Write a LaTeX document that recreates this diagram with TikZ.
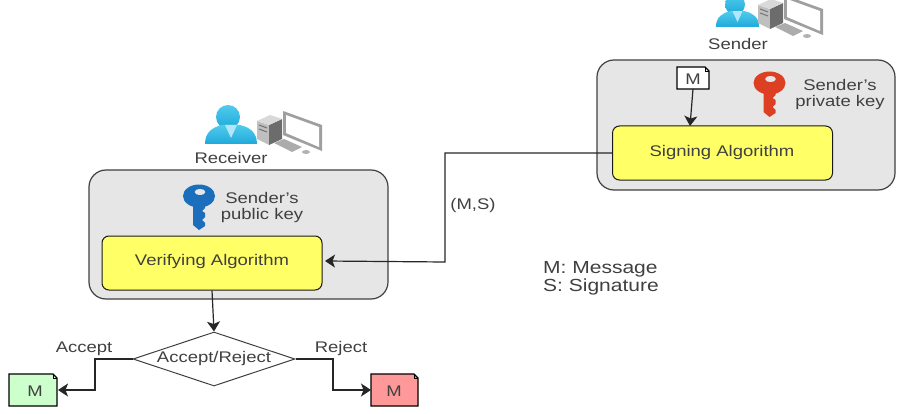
\documentclass[tikz,border=0pt]{standalone}
\usepackage{fontspec}
\setmainfont[FakeStretch=1.2]{Liberation Sans}
\usetikzlibrary{shapes.geometric,arrows.meta}

\definecolor{panelgray}{HTML}{E6E6E6}
\definecolor{algoyellow}{HTML}{FFFF66}
\definecolor{labelgray}{HTML}{404040}
\definecolor{keyred}{HTML}{DD3F22}
\definecolor{keyblue}{HTML}{1B6EBB}
\definecolor{persontop}{HTML}{50CBEC}
\definecolor{personlow}{HTML}{1FA9DA}

\tikzset{
  panel/.style={draw=black!75, fill=panelgray, line width=1.2pt, rounded corners=17pt},
  algo/.style={draw=black!90, fill=algoyellow, line width=1pt, rounded corners=7pt,
    minimum width=220pt, minimum height=54pt},
  txt/.style={text=labelgray, font=\fontsize{15.4}{18}\selectfont, align=center, inner sep=0pt},
  keytxt/.style={txt, font=\fontsize{15.4}{16}\selectfont},
  link/.style={draw=black!85, line width=1.2pt, -{Stealth[length=10pt,width=13pt,inset=2.5pt]}},
  pics/key/.style={code={
    % Bow with its hole, then shaft and teeth; origin on top of the bow
    \fill[#1, even odd rule] (0,11) ellipse (16 and 11.5) (1,7) ellipse (5.5 and 3.2);
    \fill[#1] (-6,18) -- (-6,40) -- (0,45) -- (6,41) -- (6,38) -- (3,35) -- (6,32)
      -- (6,28) -- (3,26) -- (6,23) -- (6,18) -- cycle;
  }},
  pics/person/.style={code={
    % Head and shoulders
    \shade[top color=persontop, bottom color=personlow]
      (-3,-27) circle (12);
    \shade[top color=persontop, bottom color=personlow]
      (-26,0) .. controls (-26,-12) and (-18,-17) .. (-9,-19) -- (9,-19)
      .. controls (18,-17) and (26,-12) .. (26,0) -- cycle;
    \fill[white!70!cyan] (-6,-19) -- (0,-6) -- (6,-19) -- cycle;
  }},
  pics/computer/.style={code={
    % Tower
    \fill[gray!50] (0,10) -- (12,14) -- (12,34) -- (0,28) -- cycle;
    \fill[gray!85!black] (12,14) -- (25,8) -- (25,28) -- (12,34) -- cycle;
    \fill[gray!30] (0,10) -- (13,4) -- (25,8) -- (12,14) -- cycle;
    \draw[gray!90!black, line width=1pt] (2,14) -- (10,17) (2,18) -- (10,21);
    % Monitor
    \fill[gray!75] (26,0) -- (65,14) -- (65,40) -- (26,24) -- cycle;
    \fill[white] (29,4) -- (62,16) -- (62,36) -- (29,22) -- cycle;
    % Keyboard and mouse
    \fill[gray!65] (17,32) -- (27,28) -- (45,36) -- (35,41) -- cycle;
    \fill[gray!60] (49,41) ellipse (4 and 2);
  }},
  pics/docshape/.style args={#1/#2/#3}{code={
    % Page with turned corner, top left at the origin
    \draw[fill=#1, line width=1.2pt] (0,0) -- (#2-4,0) -- (#2,4) -- (#2,#3) -- (0,#3) -- cycle;
    \draw[line width=0.5pt] (#2-4,0) -- (#2-4,4) -- (#2,4);
  }},
}

\begin{document}
\begin{tikzpicture}[x=1pt, y=-1pt]
  \useasboundingbox (0,0) rectangle (909,414);

  % Sender side
  \draw[panel] (597,60) rectangle (895,190);
  \node[algo] (signing) at (722.5,153) {};
  \node[txt] (signtext) at (722,153) {Signing Algorithm};
  \pic at (769.5,72) {key=keyred};
  \node[keytxt] (privkey) at (840,95) {Sender's\\private key};
  \pic at (737.5,27) [scale=0.83] {person};
  \pic at (758,-5) {computer};
  \node[txt] (sender) at (738,44) {Sender};
  \pic at (677,67) {docshape={white/32/22}};
  \node[txt] (msg) at (693,79) {M};

  % Receiver side
  \draw[panel] (89,170) rectangle (388,299);
  \node[algo] (verifying) at (212,263) {};
  \node[txt] (verifytext) at (212,262) {Verifying Algorithm};
  \pic at (199,185) {key=keyblue};
  \node[keytxt] (pubkey) at (262,208) {Sender's\\public key};
  \pic at (231,144) {person};
  \pic at (257,111) {computer};
  \node[txt] (receiver) at (231,158) {Receiver};

  % Decision
  \node[diamond, draw=black!75, fill=white, line width=1pt, aspect=3, inner sep=0pt,
    minimum width=162pt, minimum height=54pt, txt] (decide) at (214,359) {};
  \node[txt] (decidetext) at (214,359) {Accept/Reject};

  % Outcome pages
  \pic at (9,374) {docshape={green!20/48/32}};
  \pic at (371,374) {docshape={red!40/47/32}};
  \node[txt] (acceptdoc) at (35,391) {M};
  \node[txt] (rejectdoc) at (394,391) {M};
  \coordinate (acceptin) at (58,390);
  \coordinate (rejectin) at (371,390);
  \coordinate (acceptbend) at (95,359);
  \coordinate (rejectbend) at (333,359);

  % Connectors
  \coordinate (msgout) at (693,89);
  \coordinate (signin) at (690,126);
  \coordinate (corner) at (445,153);
  \coordinate (corner2) at (445,262);
  \coordinate (verifyin) at (325,261);
  \draw[link] (msgout) -- (signin);
  \draw[link] (signing.west) -- (corner) -- (corner2) -- (verifyin);
  \draw[link] (verifying.south) -- (decide.north);
  \draw[link] (decide.west) -- (acceptbend) |- (acceptin);
  \draw[link] (decide.east) -- (rejectbend) |- (rejectin);

  % Labels
  \node[txt] (mslabel) at (473,206) {(M,S)};
  \node[txt] (acceptlabel) at (84,349) {Accept};
  \node[txt] (rejectlabel) at (341,349) {Reject};
  \node[txt, anchor=west, align=left, font=\fontsize{17.5}{18}\selectfont] (legend) at (543,278.5)
    {M: Message\\S: Signature};
\end{tikzpicture}
\end{document}
